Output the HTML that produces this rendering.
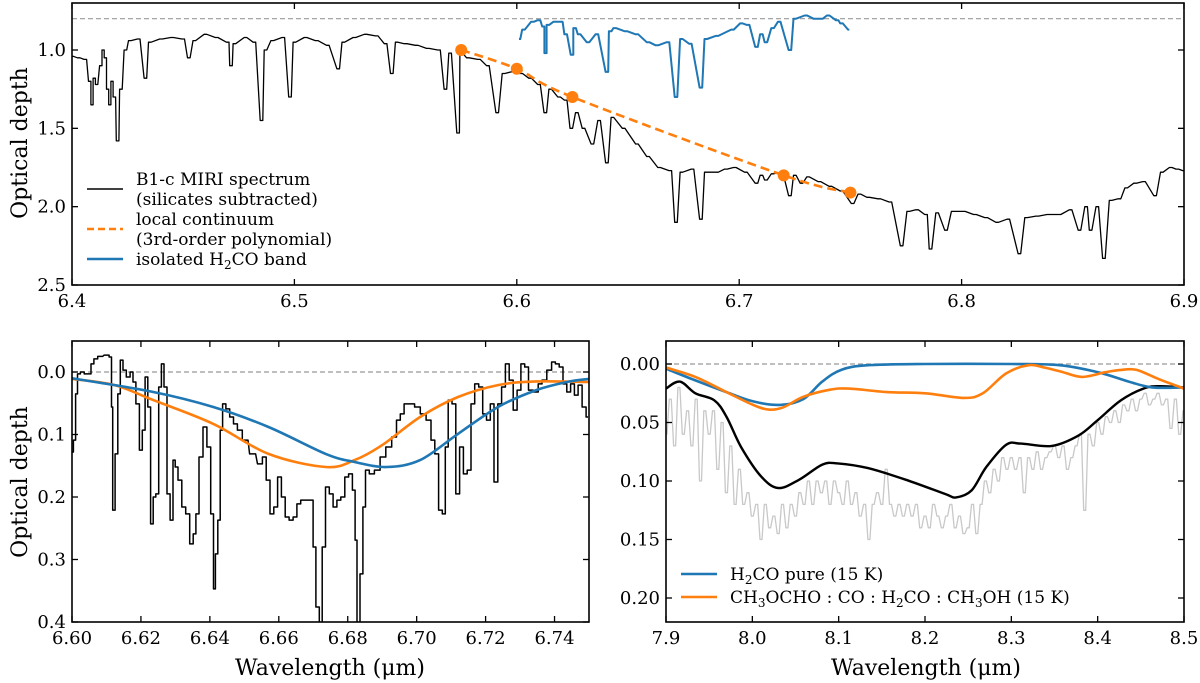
<!DOCTYPE html>
<html><head><meta charset="utf-8">
<style>
html,body{margin:0;padding:0;background:#fff;}
svg{display:block;font-family:"DejaVu Serif","Liberation Serif",serif;}
</style></head>
<body>
<svg id="fig" width="1200" height="683" viewBox="0 0 1200 683" xmlns="http://www.w3.org/2000/svg">
<defs>
<clipPath id="clipTop"><rect x="72" y="3" width="1112" height="282"/></clipPath>
<clipPath id="clipBL"><rect x="72" y="341" width="517" height="281"/></clipPath>
<clipPath id="clipBR"><rect x="666" y="341" width="518" height="281"/></clipPath>
</defs>
<g id="layer"></g>
</svg>
<script>
// ===== Top panel data =====
const topW = [6.400,6.403,6.406,6.408,6.409,6.410,6.411,6.413,6.414,6.415,6.416,6.417,6.418,6.419,6.4205,6.422,6.424,6.426,6.430,6.433,6.435,6.440,6.445,6.450,6.4525,6.455,6.460,6.465,6.470,6.4715,6.473,6.478,6.482,6.4852,6.487,6.490,6.495,6.498,6.500,6.505,6.510,6.515,6.5197,6.522,6.527,6.532,6.537,6.541,6.5438,6.546,6.550,6.555,6.560,6.565,6.5679,6.570,6.5736,6.575,6.578,6.583,6.587,6.5912,6.594,6.598,6.602,6.606,6.610,6.6128,6.615,6.619,6.622,6.6245,6.627,6.630,6.634,6.637,6.6405,6.643,6.648,6.654,6.659,6.664,6.669,6.6716,6.674,6.679,6.6828,6.685,6.690,6.694,6.698,6.703,6.7078,6.710,6.712,6.715,6.719,6.7228,6.725,6.728,6.731,6.736,6.741,6.746,6.751,6.754,6.758,6.763,6.768,6.773,6.776,6.780,6.784,6.786,6.789,6.793,6.796,6.801,6.806,6.811,6.816,6.821,6.826,6.829,6.834,6.839,6.844,6.849,6.853,6.856,6.858,6.861,6.864,6.867,6.871,6.874,6.878,6.882,6.887,6.890,6.894,6.897,6.900];
const topV = [1.04,1.05,1.06,1.20,1.35,1.18,1.22,1.10,1.00,1.05,1.25,1.35,1.20,1.30,1.58,1.25,1.00,0.94,0.93,1.18,0.95,0.93,0.92,0.93,1.05,0.94,0.90,0.92,0.95,1.10,0.96,0.92,0.95,1.45,1.00,0.94,0.92,1.30,0.95,0.92,0.94,0.97,1.12,0.95,0.92,0.90,0.91,0.96,1.15,0.95,0.96,0.97,0.99,1.00,1.25,1.02,1.53,1.02,1.05,1.06,1.10,1.40,1.15,1.14,1.15,1.18,1.22,1.40,1.25,1.30,1.32,1.50,1.40,1.50,1.60,1.45,1.72,1.43,1.50,1.60,1.68,1.75,1.77,2.10,1.78,1.76,2.08,1.78,1.78,1.76,1.75,1.78,1.85,1.80,1.83,1.79,1.78,1.93,1.80,1.85,1.81,1.84,1.87,1.90,1.98,1.92,1.94,1.95,1.97,2.25,2.03,2.02,2.05,2.27,2.04,2.15,2.03,2.03,2.05,2.07,2.10,2.08,2.30,2.07,2.06,2.05,2.05,2.02,2.15,2.00,2.15,2.00,2.33,1.96,1.95,1.88,1.85,1.84,1.93,1.78,1.75,1.76,1.77];
const bandW = [6.601,6.603,6.607,6.610,6.612,6.6128,6.614,6.617,6.620,6.622,6.6248,6.626,6.628,6.632,6.636,6.6405,6.642,6.644,6.649,6.654,6.659,6.663,6.668,6.6716,6.674,6.678,6.6828,6.685,6.690,6.697,6.701,6.704,6.7078,6.710,6.712,6.715,6.718,6.7228,6.725,6.730,6.734,6.737,6.740,6.744,6.746,6.7495];
const bandV = [0.93,0.87,0.82,0.81,0.85,1.02,0.84,0.82,0.82,0.90,1.03,0.86,0.90,0.95,0.90,1.14,0.88,0.86,0.88,0.90,0.95,0.97,0.95,1.30,0.93,0.96,1.24,0.93,0.91,0.87,0.83,0.84,0.98,0.90,0.95,0.86,0.82,1.00,0.80,0.78,0.80,0.80,0.78,0.81,0.83,0.87];
const contW = [6.575,6.600,6.625,6.720,6.750];
const contV = [1.00,1.12,1.30,1.80,1.91];
const topXTicks = [6.4,6.5,6.6,6.7,6.8,6.9];
const topYTicks = [1.0,1.5,2.0,2.5];

// ===== Bottom-left data =====
const blW = [6.600,6.6008,6.6013,6.6019,6.603,6.6041,6.6052,6.6058,6.6069,6.608,6.6102,6.6113,6.6116,6.612,6.613,6.6136,6.6144,6.6152,6.6163,6.6174,6.618,6.6191,6.620,6.6208,6.6216,6.6224,6.6232,6.6239,6.6247,6.6256,6.6263,6.6271,6.628,6.6289,6.6297,6.6302,6.6313,6.6324,6.6336,6.6347,6.6356,6.6363,6.6374,6.6386,6.6397,6.6408,6.6413,6.6419,6.6427,6.6433,6.6441,6.6452,6.6463,6.6474,6.6486,6.6502,6.6524,6.6547,6.6558,6.6569,6.658,6.6591,6.6602,6.6613,6.6624,6.6636,6.6647,6.6658,6.6669,6.6697,6.6702,6.6713,6.6722,6.673,6.6741,6.6752,6.6763,6.6774,6.6786,6.6797,6.6808,6.6819,6.6824,6.683,6.6841,6.6847,6.6856,6.6869,6.6886,6.6902,6.6919,6.6936,6.6947,6.6958,6.6969,6.6986,6.7002,6.7019,6.7036,6.7047,6.7058,6.7069,6.708,6.7086,6.7097,6.7108,6.7119,6.713,6.7141,6.7152,6.7163,6.7174,6.7186,6.7197,6.7208,6.7219,6.723,6.7241,6.7252,6.7263,6.7274,6.7286,6.7297,6.7308,6.7319,6.733,6.7347,6.7358,6.7369,6.7386,6.7397,6.7408,6.7419,6.743,6.7441,6.7452,6.7463,6.7474,6.7486,6.7497];
const blV = [0.128,0.109,0.035,0.003,0.000,0.003,0.003,-0.013,-0.021,-0.025,-0.027,-0.024,0.056,0.221,0.131,0.035,-0.019,-0.003,0.008,0.000,0.016,0.051,0.125,0.093,0.008,0.056,0.243,0.200,0.195,0.024,-0.013,0.024,0.195,0.237,0.141,0.152,0.173,0.216,0.227,0.275,0.259,0.227,0.136,0.088,0.120,0.227,0.347,0.291,0.237,0.093,0.051,0.059,0.072,0.083,0.093,0.109,0.131,0.147,0.136,0.173,0.227,0.216,0.168,0.200,0.232,0.237,0.232,0.211,0.205,0.205,0.280,0.376,0.450,0.280,0.184,0.195,0.216,0.205,0.200,0.168,0.163,0.189,0.269,0.450,0.323,0.216,0.157,0.163,0.157,0.136,0.120,0.104,0.077,0.067,0.051,0.051,0.056,0.067,0.077,0.109,0.131,0.221,0.227,0.120,0.045,0.051,0.195,0.120,0.163,0.157,0.051,0.019,0.024,0.067,0.077,0.051,0.176,0.051,0.024,-0.013,0.013,0.061,0.029,-0.013,-0.008,0.029,0.032,0.019,0.013,-0.003,-0.016,-0.013,-0.008,0.019,0.032,0.019,0.037,0.021,0.056,0.072];
const blOrangeW = [6.600,6.6124,6.6236,6.641,6.657,6.6736,6.682,6.690,6.701,6.712,6.7236,6.7347,6.750];
const blOrangeV = [0.011,0.021,0.045,0.083,0.131,0.152,0.141,0.117,0.072,0.040,0.021,0.015,0.016];
const blBlueW = [6.600,6.6236,6.641,6.657,6.6736,6.682,6.6913,6.701,6.712,6.7236,6.7347,6.7436,6.750];
const blBlueV = [0.010,0.032,0.056,0.088,0.131,0.144,0.152,0.141,0.099,0.056,0.029,0.016,0.011];
const blXTicks = [6.60,6.62,6.64,6.66,6.68,6.70,6.72,6.74];
const blYTicks = [0.0,0.1,0.2,0.3,0.4];

// ===== Bottom-right data =====
const brGrayStart = 7.90;
const brGrayStep = 0.005;
const brGrayV = [0.06,0.03,0.07,0.02,0.06,0.04,0.07,0.03,0.10,0.04,0.06,0.04,0.09,0.05,0.11,0.07,0.12,0.09,0.12,0.11,0.13,0.12,0.15,0.12,0.14,0.13,0.145,0.12,0.14,0.12,0.13,0.11,0.12,0.10,0.12,0.10,0.11,0.10,0.12,0.10,0.11,0.12,0.10,0.12,0.11,0.13,0.12,0.15,0.12,0.11,0.12,0.09,0.12,0.13,0.12,0.13,0.12,0.13,0.12,0.14,0.13,0.14,0.12,0.13,0.14,0.13,0.12,0.14,0.13,0.145,0.14,0.12,0.145,0.12,0.10,0.11,0.09,0.10,0.08,0.09,0.08,0.09,0.08,0.11,0.08,0.09,0.075,0.09,0.08,0.075,0.07,0.08,0.07,0.09,0.08,0.07,0.06,0.125,0.06,0.07,0.05,0.06,0.045,0.05,0.04,0.05,0.035,0.04,0.03,0.04,0.03,0.025,0.035,0.03,0.025,0.035,0.03,0.055,0.03,0.06,0.04];
const brBlueW = [7.900,7.934,7.970,8.001,8.032,8.059,8.081,8.103,8.134,8.200,8.300,8.356,8.400,8.436,8.463,8.500];
const brBlueV = [0.004,0.014,0.024,0.032,0.035,0.030,0.015,0.005,0.001,0.000,0.000,0.001,0.007,0.015,0.020,0.020];
const brOrangeW = [7.900,7.934,7.970,8.001,8.019,8.036,8.059,8.090,8.112,8.156,8.200,8.245,8.267,8.294,8.320,8.338,8.360,8.382,8.409,8.427,8.445,8.471,8.500];
const brOrangeV = [0.003,0.011,0.024,0.035,0.039,0.037,0.028,0.022,0.021,0.024,0.025,0.029,0.025,0.008,0.001,0.003,0.007,0.011,0.007,0.005,0.005,0.013,0.021];
const brBlackW = [7.900,7.916,7.934,7.956,7.970,7.987,8.010,8.030,8.054,8.081,8.099,8.134,8.178,8.223,8.236,8.254,8.271,8.294,8.311,8.347,8.378,8.400,8.427,8.453,8.471,8.500];
const brBlackV = [0.021,0.015,0.025,0.031,0.045,0.071,0.096,0.106,0.099,0.086,0.085,0.089,0.099,0.111,0.114,0.108,0.088,0.069,0.068,0.070,0.061,0.048,0.031,0.021,0.019,0.020];
const brXTicks = [7.9,8.0,8.1,8.2,8.3,8.4,8.5];
const brYTicks = [0.00,0.05,0.10,0.15,0.20];

// ===== drawing =====
const NS = "http://www.w3.org/2000/svg";
const layer = document.getElementById('layer');
function mk(tag, attrs, parent){
  const e = document.createElementNS(NS, tag);
  for (const k in attrs) e.setAttribute(k, attrs[k]);
  (parent||layer).appendChild(e);
  return e;
}
function lin(d0,d1,r0,r1){ return v => r0 + (v-d0)*(r1-r0)/(d1-d0); }

// step line with capped pixel half-width (narrow channels), linear between
function stepPath(ws, vs, sx, sy, capPx){
  let d = '';
  for (let i=0;i<ws.length;i++){
    const xc = sx(ws[i]);
    let hl = i===0 ? 0 : (xc - sx(ws[i-1]))/2;
    let hr = i===ws.length-1 ? 0 : (sx(ws[i+1]) - xc)/2;
    hl = Math.min(hl, capPx); hr = Math.min(hr, capPx);
    const y = sy(vs[i]);
    d += (i===0?'M':'L') + (xc-hl).toFixed(1)+','+y.toFixed(1)+'L'+(xc+hr).toFixed(1)+','+y.toFixed(1);
  }
  return d;
}
function smoothPath(ws, vs, sx, sy){
  const p = ws.map((w,i)=>[sx(w), sy(vs[i])]);
  let d = 'M'+p[0][0].toFixed(1)+','+p[0][1].toFixed(1);
  for (let i=0;i<p.length-1;i++){
    const p0 = p[i-1]||p[i], p1=p[i], p2=p[i+1], p3=p[i+2]||p[i+1];
    const c1=[p1[0]+(p2[0]-p0[0])/6, p1[1]+(p2[1]-p0[1])/6];
    const c2=[p2[0]-(p3[0]-p1[0])/6, p2[1]-(p3[1]-p1[1])/6];
    d += 'C'+c1[0].toFixed(1)+','+c1[1].toFixed(1)+' '+c2[0].toFixed(1)+','+c2[1].toFixed(1)+' '+p2[0].toFixed(1)+','+p2[1].toFixed(1);
  }
  return d;
}
function axesBox(x0,y0,x1,y1,sx,sy,xt,yt,xfmt,yfmt,prefix,xlabY){
  const box = mk('rect',{x:x0,y:y0,width:x1-x0,height:y1-y0,fill:'none',stroke:'#000','stroke-width':1.6});
  
  
  xt.forEach(v=>{
    const x = sx(v);
    const t1 = mk('line',{x1:x,x2:x,y1:y1,y2:y1-6,stroke:'#000','stroke-width':1.3});
    
    
    const t2 = mk('line',{x1:x,x2:x,y1:y0,y2:y0+6,stroke:'#000','stroke-width':1.3});
    
    
    const lb = mk('text',{x:x,y:xlabY,'text-anchor':'middle','font-size':18,fill:'#000'});
    lb.textContent = xfmt(v);
    
    
  });
  yt.forEach(v=>{
    const y = sy(v);
    const t1 = mk('line',{x1:x0,x2:x0+6,y1:y,y2:y,stroke:'#000','stroke-width':1.3});
    
    
    const t2 = mk('line',{x1:x1,x2:x1-6,y1:y,y2:y,stroke:'#000','stroke-width':1.3});
    
    
    const lb = mk('text',{x:x0-6,y:y+6,'text-anchor':'end','font-size':18,fill:'#000'});
    lb.textContent = yfmt(v);
    
    
  });
}
function line(d, color, w, clip, name, dash){
  const a = {d:d, fill:'none', stroke:color, 'stroke-width':w, 'clip-path':'url(#'+clip+')','stroke-linejoin':'round'};
  if (dash) a['stroke-dasharray']=dash;
  const p = mk('path', a);
  
  
  return p;
}

// --- Top panel ---
const tx = lin(6.4, 6.9, 72, 1184);
const ty = lin(1.0, 2.5, 50, 285);
const tz = mk('line',{x1:72,x2:1184,y1:ty(0.8),y2:ty(0.8),stroke:'#999','stroke-width':1.2,'stroke-dasharray':'5,3'});


line(stepPath(topW, topV, tx, ty, 1.3), '#000', 1.3, 'clipTop', 'top-miri-spectrum');
line(stepPath(bandW, bandV, tx, ty, 1.3), '#1f77b4', 2, 'clipTop', 'top-h2co-band');
line(smoothPath(contW, contV, tx, ty), '#ff7f0e', 2.6, 'clipTop', 'top-local-continuum', '9,5');
contW.forEach((w,i)=>{
  const c = mk('circle',{cx:tx(w),cy:ty(contV[i]),r:6,fill:'#ff7f0e'});
  
  
});
axesBox(72,3,1184,285,tx,ty,topXTicks,topYTicks,v=>v.toFixed(1),v=>v.toFixed(1),'top',307);
const tyl = mk('text',{x:0,y:0,'text-anchor':'middle','font-size':22,transform:'translate(27,143) rotate(-90)'});
tyl.textContent='Optical depth';



// legends
function legendEntry(x, y, color, dash, lines, name, lh){
  const l = mk('line',{x1:x,x2:x+36,y1:y,y2:y,stroke:color,'stroke-width':color==='#000'?1.4:2.6});
  if (dash) l.setAttribute('stroke-dasharray', dash);
  
  
  const t = mk('text',{x:x+49,y:y - (lines.length-1)*lh/2 + 6,'font-size':17,fill:'#000'});
  
  
  lines.forEach((s,i)=>{
    const ts = mk('tspan',{x:x+49,dy:i===0?0:lh}, t);
    ts.innerHTML = s;
  });
}
legendEntry(87,189,'#000',null,['B1-c MIRI spectrum','(silicates subtracted)'],'legend-miri',20);
legendEntry(87,229,'#ff7f0e','7,4',['local continuum','(3rd-order polynomial)'],'legend-continuum',20);
legendEntry(87,259,'#1f77b4',null,['isolated H<tspan font-size="12" dy="4">2</tspan><tspan dy="-4">CO band</tspan>'],'legend-h2co',20);

// --- Bottom-left ---
const lx = lin(6.60, 6.75, 72, 589);
const ly = lin(0.0, 0.4, 372, 622);
const lz = mk('line',{x1:72,x2:589,y1:ly(0),y2:ly(0),stroke:'#999','stroke-width':1.2,'stroke-dasharray':'5,3'});


line(stepPath(blW, blV, lx, ly, 3), '#000', 1.5, 'clipBL', 'bl-spectrum');
line(smoothPath(blOrangeW, blOrangeV, lx, ly), '#ff7f0e', 2.6, 'clipBL', 'bl-orange-fit');
line(smoothPath(blBlueW, blBlueV, lx, ly), '#1f77b4', 2.6, 'clipBL', 'bl-blue-fit');
axesBox(72,341,589,622,lx,ly,blXTicks,blYTicks,v=>v.toFixed(2),v=>v.toFixed(1),'bl',644);
const bly = mk('text',{x:0,y:0,'text-anchor':'middle','font-size':22,transform:'translate(27,482) rotate(-90)'});
bly.textContent='Optical depth';


const blx = mk('text',{x:330,y:675,'text-anchor':'middle','font-size':22});
blx.textContent='Wavelength (μm)';



// --- Bottom-right ---
const rx = lin(7.9, 8.5, 666, 1184);
const ry = lin(0.0, 0.20, 364, 598);
const brGrayW = brGrayV.map((v,i)=>brGrayStart + i*brGrayStep);
line(stepPath(brGrayW, brGrayV, rx, ry, 1), '#c8c8c8', 1.3, 'clipBR', 'br-observed-spectrum');
const rz = mk('line',{x1:666,x2:1184,y1:ry(0),y2:ry(0),stroke:'#999','stroke-width':1.2,'stroke-dasharray':'5,3'});


line(smoothPath(brBlackW, brBlackV, rx, ry), '#000', 2.4, 'clipBR', 'br-total-fit');
line(smoothPath(brBlueW, brBlueV, rx, ry), '#1f77b4', 2.6, 'clipBR', 'br-h2co-pure');
line(smoothPath(brOrangeW, brOrangeV, rx, ry), '#ff7f0e', 2.6, 'clipBR', 'br-mixture');
axesBox(666,341,1184,622,rx,ry,brXTicks,brYTicks,v=>v.toFixed(1),v=>v.toFixed(2),'br',644);
const brx = mk('text',{x:926,y:675,'text-anchor':'middle','font-size':22});
brx.textContent='Wavelength (μm)';


legendEntry(681,574,'#1f77b4',null,['H<tspan font-size="12" dy="4">2</tspan><tspan dy="-4">CO pure (15 K)</tspan>'],'legend-h2co-pure',20);
legendEntry(681,597,'#ff7f0e',null,['CH<tspan font-size="12" dy="4">3</tspan><tspan dy="-4">OCHO : CO : H</tspan><tspan font-size="12" dy="4">2</tspan><tspan dy="-4">CO : CH</tspan><tspan font-size="12" dy="4">3</tspan><tspan dy="-4">OH (15 K)</tspan>'],'legend-mixture',20);
</script>
</body></html>
